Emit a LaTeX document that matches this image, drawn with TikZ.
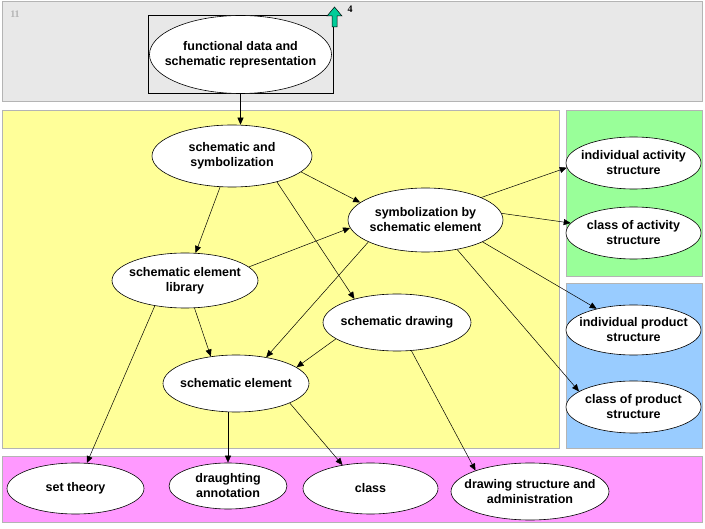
\documentclass[tikz,border=0pt]{standalone}
\usepackage{fontspec}
\setmainfont{Liberation Sans}
\newfontfamily\numfont{Liberation Serif}
\usetikzlibrary{shapes.geometric,arrows.meta}
\definecolor{bandgray}{HTML}{E8E8E8}
\definecolor{bandline}{HTML}{B4B4B4}
\definecolor{areayellow}{HTML}{FFFF99}
\definecolor{areagreen}{HTML}{99FF99}
\definecolor{areablue}{HTML}{99CCFF}
\definecolor{areapink}{HTML}{FF99FF}
\definecolor{uparrow}{HTML}{00CC99}
\begin{document}
\begin{tikzpicture}[x=1pt, y=-1pt,
    ent/.style={draw, black, ellipse, fill=white, line width=0.6pt,
      inner xsep=-12pt, inner ysep=0pt, align=center,
      font=\bfseries\fontsize{12.5}{15}\selectfont},
    band/.style={draw=bandline, line width=1pt},
    link/.style={-{Triangle[length=7pt,width=6pt]}, line width=0.5pt}]
  \useasboundingbox (0,0) rectangle (705,529);
  \filldraw[band, fill=bandgray] (2,2) rectangle (702,102);
  \filldraw[band, fill=areayellow] (2,111) rectangle (559,449);
  \filldraw[band, fill=areagreen] (566,111) rectangle (702,277);
  \filldraw[band, fill=areablue] (566,284) rectangle (702,449);
  \filldraw[band, fill=areapink] (2,457) rectangle (702,523);
  \node (tag) [text=bandline, font=\numfont\bfseries\fontsize{10}{10}\selectfont] at (15,14) {11};

  \node (fdframe) [draw, black, rectangle, line width=0.8pt, inner sep=0pt,
    minimum width=185pt, minimum height=78pt] at (240.5,54) {};
  \node (fd) [ent, minimum width=182pt, minimum height=78pt] at (240.5,54.5) {functional data and\\schematic representation};
  \filldraw[fill=uparrow, draw=black, line width=0.5pt]
    (332,27) -- (332,16) -- (327,16) -- (334.5,7) -- (342,16) -- (337,16) -- (337,27) -- cycle;
  \node (num4) [font=\numfont\bfseries\fontsize{10}{10}\selectfont] at (350,9) {4};

  \node (ss) [ent, minimum width=160pt, minimum height=62pt] at (232,156) {schematic and\\symbolization};
  \node (sl) [ent, minimum width=146pt, minimum height=55pt] at (185,280.5) {schematic element\\library};
  \node (sy) [ent, minimum width=155pt, minimum height=64pt] at (425.5,220) {symbolization by\\schematic element};
  \node (sd) [ent, minimum width=148pt, minimum height=57pt] at (397,322.5) {schematic drawing};
  \node (se) [ent, minimum width=146pt, minimum height=57pt] at (236,383.5) {schematic element};

  \node (ia) [ent, minimum width=135pt, minimum height=52pt] at (633.5,163) {individual activity\\structure};
  \node (ca) [ent, minimum width=135pt, minimum height=52pt] at (633.5,233) {class of activity\\structure};
  \node (ip) [ent, minimum width=135pt, minimum height=50pt] at (633.5,330) {individual product\\structure};
  \node (cp) [ent, minimum width=135pt, minimum height=52pt] at (633.5,407) {class of product\\structure};

  \node (st) [ent, minimum width=137pt, minimum height=51pt] at (75.5,488.5) {set theory};
  \node (dra) [ent, minimum width=118pt, minimum height=46pt] at (228,486) {draughting\\annotation};
  \node (cls) [ent, minimum width=135pt, minimum height=51pt] at (370.5,488.5) {class};
  \node (ds) [ent, minimum width=158pt, minimum height=57pt] at (530,491.5) {drawing structure and\\administration};

  \draw[link] (fdframe.south) -- (fdframe.south |- ss.north);
  \draw[link] (ss.-111) -- (sl.69);
  \draw[link] (ss.-13) -- (sy.165);
  \draw[link] (ss.-30) -- (sd.151);
  \draw[link] (sl.12) -- (sy.-174);
  \draw[link] (sl.-71) -- (se.133);
  \draw[link] (sl.-140) -- (st.66);
  \draw[link] (sy.-159) -- (se.41);
  \draw[link] (sd.-165) -- (se.15);
  \draw[link] (sy.22) -- (ia.-176);
  \draw[link] (sy.5) -- (ca.171);
  \draw[link] (sy.-21) -- (ip.150);
  \draw[link] (sy.-43) -- (cp.164);
  \draw[link] (se.south -| dra.north) -- (dra.north);
  \draw[link] (se.-20) -- (cls.140);
  \draw[link] (sd.-63) -- (ds.159);
\end{tikzpicture}
\end{document}
